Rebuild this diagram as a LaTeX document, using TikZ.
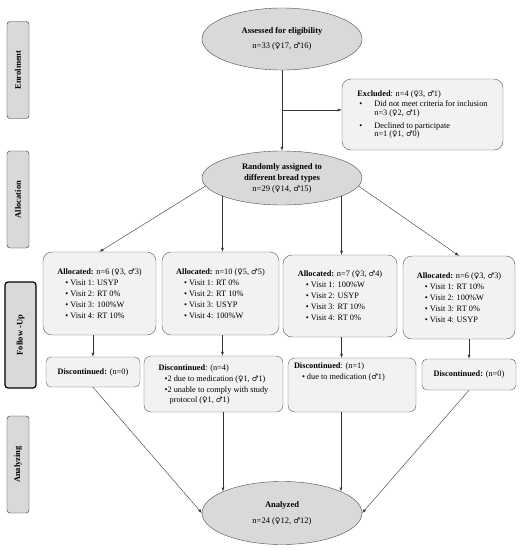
\documentclass[tikz,border=0pt]{standalone}
\usepackage{fontspec}
\setmainfont{Liberation Serif}
\newfontfamily\gendfont[Scale=0.9]{DejaVu Sans}
\newcommand{\fsym}{{\gendfont ♀}}
\newcommand{\msym}{{\gendfont ♂}}
\usetikzlibrary{arrows,shapes.geometric}

\tikzset{
  oval/.style={ellipse, draw=gray!60!black, fill=gray!30, inner sep=0pt,
    minimum width=160pt, align=center, font=\fontsize{8.5}{12}\selectfont},
  box/.style={draw=gray!70!black, fill=gray!10, rounded corners=9pt,
    inner sep=0pt, align=left, font=\fontsize{8.3}{11}\selectfont},
  phase/.style={draw=gray!30!black, fill=gray!30, rounded corners=3pt, rotate=90,
    minimum width=97pt, minimum height=22pt, inner sep=0pt,
    font=\bfseries\fontsize{8.5}{10}\selectfont},
  line/.style={draw=black!80, -latex}
}

\begin{document}
\begin{tikzpicture}[x=1pt, y=-1pt]
		\useasboundingbox (0,0) rectangle (532,550);

		\foreach \nm/\yc/\txt in {phEnrol/70/Enrolment, phAlloc/199.5/Allocation, phAnal/464.5/Analyzing}
		{
			\node[phase] (\nm) at (18,\yc) {\txt};
		}
		\node[phase, draw=black, line width=1.2pt, minimum width=106pt, minimum height=31pt] (phFollow) at (20.5,335) {Follow -Up};

		\node[oval, minimum height=62pt] (assess) at (282,39) {\textbf{Assessed for eligibility}\\[3pt] n=33 (\fsym17, \msym16)};
		\node[box, minimum width=161pt, minimum height=71pt] (excluded) at (422.5,114.5)
			{\textbf{Excluded}: n=4 (\fsym3, \msym1)\\[-1pt]
			\makebox[17pt][l]{\hspace{2pt}\textbullet}Did not meet criteria for inclusion\\[-2.5pt]
			\hspace*{17pt}n=3 (\fsym2, \msym1)\\[2pt]
			\makebox[17pt][l]{\hspace{2pt}\textbullet}Declined to participate\\[-2.5pt]
			\hspace*{17pt}n=1 (\fsym1, \msym0)};
		\node[oval, minimum height=54pt] (random) at (282,178) {\textbf{Randomly assigned to}\\[-1pt] \textbf{different bread types}\\[-1pt] n=29 (\fsym14, \msym15)};

		\node[box, minimum width=113pt, minimum height=83pt] (alloc1) at (99.5,293.5)
			{\textbf{Allocated:} n=6 (\fsym3, \msym3)\\
			\hspace*{8pt}\textbullet\ Visit 1: USYP\\
			\hspace*{8pt}\textbullet\ Visit 2: RT 0\%\\
			\hspace*{8pt}\textbullet\ Visit 3: 100\%W\\
			\hspace*{8pt}\textbullet\ Visit 4: RT 10\%};
		\node[box, minimum width=117pt, minimum height=83pt] (alloc2) at (220.5,293.5)
			{\textbf{Allocated:} n=10 (\fsym5, \msym5)\\
			\hspace*{8pt}\textbullet\ Visit 1: RT 0\%\\
			\hspace*{8pt}\textbullet\ Visit 2: RT 10\%\\
			\hspace*{8pt}\textbullet\ Visit 3: USYP\\
			\hspace*{8pt}\textbullet\ Visit 4: 100\%W};
		\node[box, minimum width=114pt, minimum height=82pt] (alloc3) at (340,296)
			{\textbf{Allocated:} n=7 (\fsym3, \msym4)\\
			\hspace*{8pt}\textbullet\ Visit 1: 100\%W\\
			\hspace*{8pt}\textbullet\ Visit 2: USYP\\
			\hspace*{8pt}\textbullet\ Visit 3: RT 10\%\\
			\hspace*{8pt}\textbullet\ Visit 4: RT 0\%};
		\node[box, minimum width=112pt, minimum height=83pt] (alloc4) at (459,297.5)
			{\textbf{Allocated:} n=6 (\fsym3, \msym3)\\
			\hspace*{8pt}\textbullet\ Visit 1: RT 10\%\\
			\hspace*{8pt}\textbullet\ Visit 2: 100\%W\\
			\hspace*{8pt}\textbullet\ Visit 3: RT 0\%\\
			\hspace*{8pt}\textbullet\ Visit 4: USYP};

		\node[box, rounded corners=5pt, minimum width=94pt, minimum height=30pt] (disc1) at (93,372) {\textbf{Discontinued:} (n=0)};
		\node[box, rounded corners=7pt, minimum width=139pt, minimum height=56pt] (disc2) at (213.5,384)
			{\textbf{Discontinued}: (n=4)\\
			\hspace*{6pt}\textbullet 2 due to medication (\fsym1, \msym1)\\
			\hspace*{6pt}\textbullet 2 unable to comply with study\\[-1pt]
			\hspace*{11pt}protocol (\fsym1, \msym1)};
		\node[box, rounded corners=7pt, minimum width=128pt, minimum height=54pt] (disc3) at (352,385)
			{\parbox[t][44pt][t]{116pt}{\textbf{Discontinued}: (n=1)\\
			\hspace*{8pt}\textbullet\ due to medication (\msym1)}};
		\node[box, rounded corners=5pt, minimum width=94pt, minimum height=31pt] (disc4) at (469,374.5) {\textbf{Discontinued:} (n=0)};

		\node[oval, minimum height=63pt] (analyzed) at (282,513) {\textbf{Analyzed}\\[4pt] n=24 (\fsym12, \msym12)};

		\coordinate (split) at (282,110);
		\draw[line] (assess) -- (random);
		\draw[line] (split) -- (split -| excluded.west);

		\draw[line] (random.186) -- (alloc1.north);
		\draw[line] (random.197) -- (random.197 |- alloc2.north);
		\draw[line] (random.-17) -- (random.-17 |- alloc3.north);
		\draw[line] (random.-6) -- (alloc4.north);

		\draw[line] (disc1.north |- alloc1.south) -- (disc1.north);
		\draw[line] (alloc2.south -| random.197) -- (random.197 |- disc2.north);
		\draw[line] (alloc3.south -| random.-17) -- (random.-17 |- disc3.north);
		\draw[line] (disc4.north |- alloc4.south) -- (disc4.north);

		\draw[line] (disc1.south) -- (analyzed.west);
		\draw[line] (disc2.south -| analyzed.160) -- (analyzed.160);
		\draw[line] (disc3.south -| analyzed.20) -- (analyzed.20);
		\draw[line] (disc4.south) -- (analyzed.east);
	\end{tikzpicture}
\end{document}
